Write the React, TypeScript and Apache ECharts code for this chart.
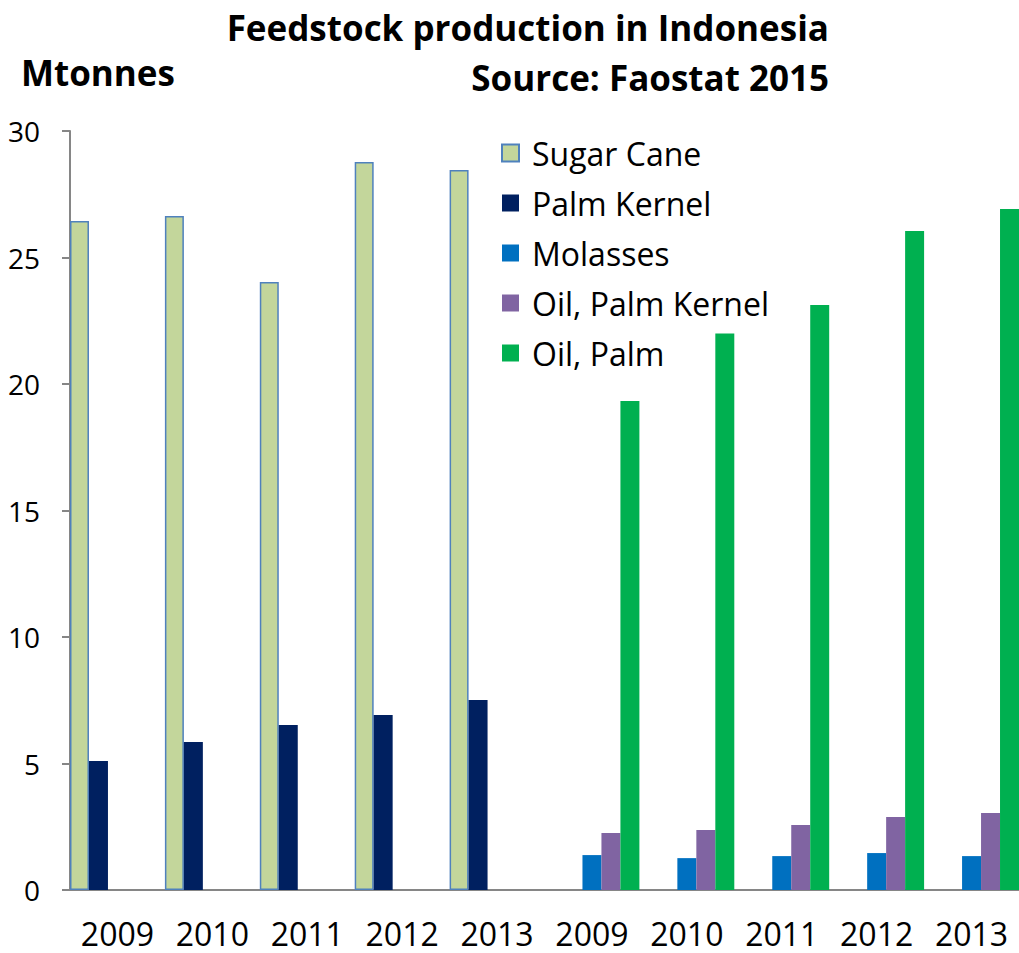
import React, { useEffect, useRef } from "react";
import * as echarts from "echarts";

const categories = ["2009", "2010", "2011", "2012", "2013", "2009", "2010", "2011", "2012", "2013"];
const sugarCane = [26.44, 26.64, 24.03, 28.77, 28.46, null, null, null, null, null];
const palmKernel = [5.1, 5.85, 6.52, 6.92, 7.51, null, null, null, null, null];
const molasses = [null, null, null, null, null, 1.38, 1.26, 1.34, 1.46, 1.34];
const oilPalmKernel = [null, null, null, null, null, 2.25, 2.37, 2.57, 2.89, 3.04];
const oilPalm = [null, null, null, null, null, 19.33, 22.0, 23.12, 26.05, 26.92];
const yTicks = { min: 0, max: 30, interval: 5 };

const FONT = "Open Sans";

export default function App() {
  const ref = useRef<HTMLDivElement>(null);
  useEffect(() => {
    if (!ref.current) return;
    const chart = echarts.init(ref.current, undefined, { renderer: "svg" });
    const bar = (name: string, data: (number | null)[], color: string, extra: any = {}) => ({
      name,
      type: "bar",
      data,
      barGap: "0%",
      barCategoryGap: "0%",
      itemStyle: { color, ...extra },
    });
    const titleStyle = { fontFamily: FONT, fontWeight: "bold", fontSize: 35, color: "#000", lineHeight: 40 };
    chart.setOption({
      animation: false,
      backgroundColor: "#fff",
      textStyle: { fontFamily: FONT },
      title: [
        { text: "Feedstock production in Indonesia", right: 190, top: 7, padding: 0, textStyle: titleStyle },
        { text: "Source: Faostat 2015", right: 190, top: 57, padding: 0, textStyle: titleStyle },
        { text: "Mtonnes", left: 21, top: 52, padding: 0, textStyle: titleStyle },
      ],
      legend: {
        orient: "vertical",
        left: 496,
        top: 132,
        icon: "rect",
        itemWidth: 17,
        itemHeight: 17,
        itemGap: 18,
        textStyle: { fontFamily: FONT, fontSize: 32, color: "#000", lineHeight: 32, padding: [0, 0, 0, 8] },
        data: ["Sugar Cane", "Palm Kernel", "Molasses", "Oil, Palm Kernel", "Oil, Palm"],
      },
      grid: { left: 70, right: -6, top: 131, bottom: 63, containLabel: false },
      xAxis: {
        type: "category",
        data: categories,
        axisLine: { lineStyle: { color: "#868686", width: 2 } },
        axisTick: { length: 12, lineStyle: { color: "#868686", width: 2 } },
        axisLabel: { fontFamily: FONT, fontSize: 32, color: "#000", margin: 30, lineHeight: 26, interval: 0 },
      },
      yAxis: {
        type: "value",
        min: yTicks.min,
        max: yTicks.max,
        interval: yTicks.interval,
        splitLine: { show: false },
        axisLine: { show: true, lineStyle: { color: "#868686", width: 2 } },
        axisTick: { show: true, length: 8, lineStyle: { color: "#868686", width: 2 } },
        axisLabel: { fontFamily: FONT, fontSize: 28, color: "#000", margin: 30 },
      },
      series: [
        bar("Sugar Cane", sugarCane, "#C3D69B", { borderColor: "#4F81BD", borderWidth: 1.5 }),
        bar("Palm Kernel", palmKernel, "#002060"),
        bar("Molasses", molasses, "#0070C0"),
        bar("Oil, Palm Kernel", oilPalmKernel, "#8064A2"),
        bar("Oil, Palm", oilPalm, "#00B050"),
      ],
    });
    return () => chart.dispose();
  }, []);
  return (
    <div
      ref={ref}
      style={{ position: "fixed", left: 0, top: 0, width: 1019, height: 953, overflow: "hidden" }}
    />
  );
}
